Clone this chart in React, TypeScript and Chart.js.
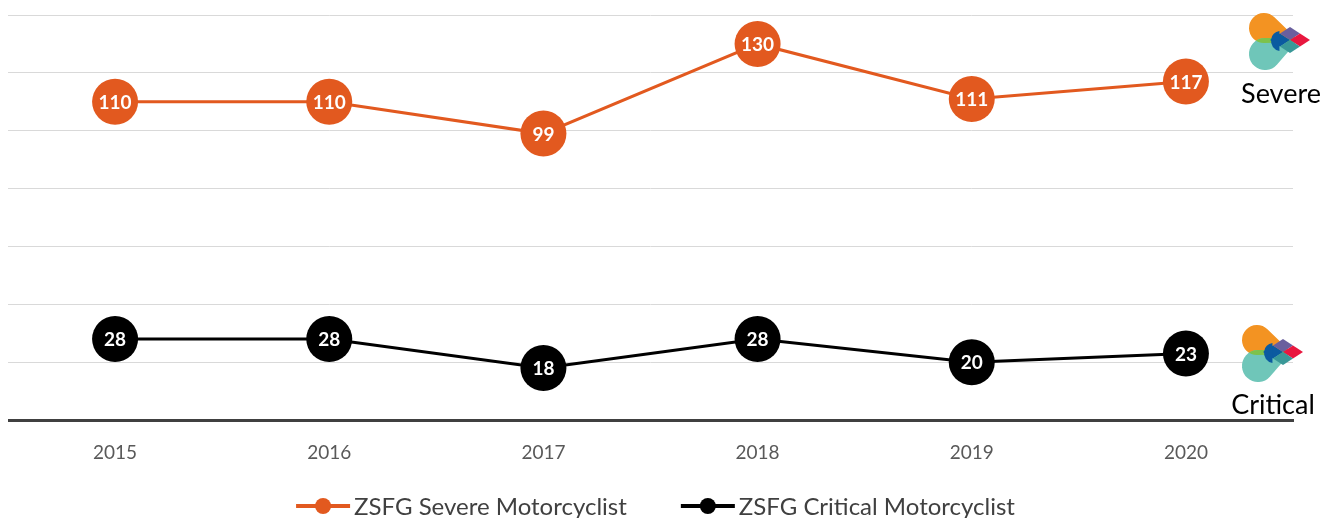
import React, { useEffect, useRef } from "react";
import { Chart, registerables } from "chart.js";

Chart.register(...registerables);

const years = ["2015", "2016", "2017", "2018", "2019", "2020"];
const severeValues = [110, 110, 99, 130, 111, 117];
const criticalValues = [28, 28, 18, 28, 20, 23];
const seriesLabels = ["ZSFG Severe Motorcyclist", "ZSFG Critical Motorcyclist"];
const sideLabels = ["Severe", "Critical"];

const ORANGE = "#e2591f";
const BLACK = "#000000";
const FONT = "Lato, 'Open Sans', sans-serif";

function drawIcon(ctx: CanvasRenderingContext2D, cx: number, cy: number) {
  // cx, cy = center of the diamond
  ctx.save();
  const teardrop = (x: number, y: number, r: number, px: number, py: number) => {
    const dx = px - x, dy = py - y;
    const d = Math.hypot(dx, dy);
    const a = Math.atan2(dy, dx);
    const t = Math.acos(r / d);
    ctx.beginPath();
    ctx.arc(x, y, r, a + t, a - t + Math.PI * 2);
    ctx.lineTo(px, py);
    ctx.closePath();
  };
  const orangePath = () => teardrop(cx - 26, cy - 12, 15, cx + 10, cy + 2);
  const tealPath = () => teardrop(cx - 25, cy + 14, 16, cx + 10, cy - 2);
  orangePath();
  ctx.fillStyle = "#f39322";
  ctx.fill();
  tealPath();
  ctx.fillStyle = "#6fc6b9";
  ctx.fill();
  ctx.save();
  orangePath();
  ctx.clip();
  tealPath();
  ctx.fillStyle = "#7dc24b";
  ctx.fill();
  ctx.restore();
  const h = 10;
  const v = 6.5;
  const sub = (x: number, y: number, color: string) => {
    ctx.beginPath();
    ctx.moveTo(x, y - v);
    ctx.lineTo(x + h, y);
    ctx.lineTo(x, y + v);
    ctx.lineTo(x - h, y);
    ctx.closePath();
    ctx.fillStyle = color;
    ctx.fill();
  };
  sub(cx - h, cy, "#0b5aa0");
  sub(cx, cy - v, "#6a5f9e");
  sub(cx + h, cy, "#e8173f");
  sub(cx, cy + v, "#3a9898");
  // rounded left part
  ctx.beginPath();
  ctx.arc(cx - 9, cy + 1, 10, Math.PI * 0.55, Math.PI * 1.45);
  ctx.closePath();
  ctx.fillStyle = "#0b5aa0";
  ctx.fill();
  ctx.restore();
}

const decorPlugin = {
  id: "decor",
  afterDatasetsDraw(chart: any) {
    const ctx: CanvasRenderingContext2D = chart.ctx;
    ctx.save();
    ctx.font = `bold 19px ${FONT}`;
    ctx.fillStyle = "#ffffff";
    ctx.textAlign = "center";
    ctx.textBaseline = "middle";
    chart.data.datasets.forEach((ds: any, i: number) => {
      const meta = chart.getDatasetMeta(i);
      meta.data.forEach((pt: any, j: number) => {
        ctx.fillText(String(ds.data[j]), pt.x, pt.y + 1);
      });
    });
    ctx.restore();
  },
  afterDraw(chart: any) {
    const ctx: CanvasRenderingContext2D = chart.ctx;
    ctx.save();
    drawIcon(ctx, 1282, 32);
    drawIcon(ctx, 1275, 344);
    ctx.font = `27px ${FONT}`;
    ctx.fillStyle = "#000000";
    ctx.textAlign = "center";
    ctx.textBaseline = "middle";
    ctx.fillText(sideLabels[0], 1273, 86);
    ctx.fillText(sideLabels[1], 1265, 397);

    // legend
    ctx.font = `24px ${FONT}`;
    ctx.textAlign = "left";
    const lineW = 54;
    const gapText = 4;
    const gapItems = 54;
    const widths = chart.data.datasets.map((ds: any) => ctx.measureText(ds.label).width);
    const total = widths.reduce((a: number, w: number) => a + w + lineW + gapText, 0) + gapItems;
    const ca = chart.chartArea;
    let x = (ca.left + ca.right) / 2 + 5 - total / 2;
    const y = 498;
    chart.data.datasets.forEach((ds: any, i: number) => {
      ctx.strokeStyle = ds.borderColor;
      ctx.lineWidth = 4;
      ctx.beginPath();
      ctx.moveTo(x, y);
      ctx.lineTo(x + lineW, y);
      ctx.stroke();
      ctx.beginPath();
      ctx.arc(x + lineW / 2, y, 8, 0, Math.PI * 2);
      ctx.fillStyle = ds.borderColor;
      ctx.fill();
      ctx.fillStyle = "#404040";
      ctx.textBaseline = "middle";
      ctx.fillText(ds.label, x + lineW + gapText, y + 1);
      x += lineW + gapText + widths[i] + gapItems;
    });
    ctx.restore();
  },
};

export default function App() {
  const ref = useRef<HTMLCanvasElement>(null);
  useEffect(() => {
    if (!ref.current) return;
    const chart = new Chart(ref.current, {
      type: "line",
      data: {
        labels: years,
        datasets: [
          {
            label: seriesLabels[0],
            data: severeValues,
            borderColor: ORANGE,
            backgroundColor: ORANGE,
            borderWidth: 3,
            pointRadius: 23,
            pointHoverRadius: 23,
            pointBorderWidth: 0,
            pointBackgroundColor: ORANGE,
            tension: 0,
          },
          {
            label: seriesLabels[1],
            data: criticalValues,
            borderColor: BLACK,
            backgroundColor: BLACK,
            borderWidth: 3,
            pointRadius: 23,
            pointHoverRadius: 23,
            pointBorderWidth: 0,
            pointBackgroundColor: BLACK,
            tension: 0,
          },
        ],
      },
      options: {
        animation: false,
        responsive: true,
        maintainAspectRatio: false,
        layout: { autoPadding: false, padding: { top: 7, right: 36, bottom: 8, left: 0 } },
        plugins: {
          legend: { display: false },
          tooltip: { enabled: false },
        },
        scales: {
          x: {
            offset: true,
            grid: { display: false },
            border: { display: true, color: "#404040", width: 3 },
            ticks: {
              color: "#595959",
              font: { family: FONT, size: 19 },
              padding: 13,
            },
            afterFit: (scale: any) => {
              scale.height = 90;
            },
          },
          y: {
            min: 0,
            max: 140,
            ticks: { display: false, stepSize: 20 },
            grid: {
              color: (c: any) => (c.tick && c.tick.value === 0 ? "rgba(0,0,0,0)" : "#d9d9d9"),
              lineWidth: 1,
              drawTicks: false,
            },
            border: { display: false },
            afterFit: (scale: any) => {
              scale.width = 0;
            },
          },
        },
      },
      plugins: [decorPlugin],
    });
    return () => chart.destroy();
  }, []);
  return (
    <div style={{ width: 1321, height: 510 }}>
      <canvas ref={ref} />
    </div>
  );
}
